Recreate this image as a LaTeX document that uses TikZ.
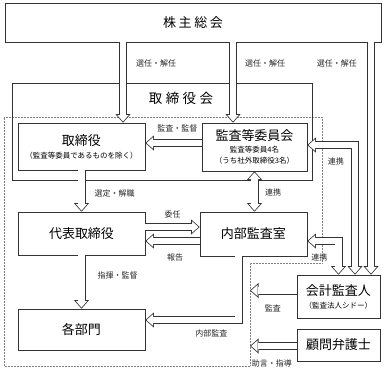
\documentclass[tikz,border=0pt]{standalone}
\usepackage{fontspec}
\setmainfont{Noto Sans CJK JP}
\usepackage{tikz}
\usetikzlibrary{arrows.meta,positioning}
\newcommand\subtxt{\fontsize{7.5}{10}\selectfont}

\begin{document}
\begin{tikzpicture}[x=1pt,y=-1pt,
          box/.style={draw=black!80,line width=.6pt,align=center,inner sep=0pt,
                      font=\fontsize{13}{15}\selectfont},
          lbl/.style={font=\fontsize{8}{9}\selectfont,inner sep=1pt,black!85},
          hollow/.style={white,line width=6.4pt,shorten >=1.2pt,
                      -{Triangle[width=11.4pt,length=6.5pt,line width=0pt]},
                      preaction={draw=black!80,line width=8pt,shorten >=0pt,
                      -{Triangle[width=15pt,length=8.5pt,line width=0pt]}}},
          hollowboth/.style={white,line width=6.4pt,shorten >=1.2pt,shorten <=1.2pt,
                      {Triangle[width=11.4pt,length=6.5pt,line width=0pt]}-{Triangle[width=11.4pt,length=6.5pt,line width=0pt]},
                      preaction={draw=black!80,line width=8pt,shorten >=0pt,shorten <=0pt,
                      {Triangle[width=15pt,length=8.5pt,line width=0pt]}-{Triangle[width=15pt,length=8.5pt,line width=0pt]}}}
        ]
        \useasboundingbox (0,0) rectangle (384,370);
        % area of the committee
        \draw[densely dotted,gray,line width=.5pt]
          (4,117) -- (322,117) -- (322,263) -- (250,263) -- (250,366) -- (4,366) -- cycle;
        \coordinate (edge) at (250,0);

        \node[box,minimum width=376pt,minimum height=39pt] (gm) at (193,22.5)
          {\addfontfeature{LetterSpace=20}株主総会};
        \node[box,minimum width=300pt,minimum height=97pt] (board) at (162,131.5) {};
        \node[font=\fontsize{13.5}{15}\selectfont] (boardttl) at (181,98)
          {\addfontfeature{LetterSpace=25}取締役会};
        \node[box,minimum width=127pt,minimum height=47pt] (dir) at (81.5,146.5)
          {取締役\\[-2pt]{\subtxt （監査等委員であるものを除く）}};
        \node[box,minimum width=105pt,minimum height=48pt] (audit) at (254.5,147)
          {監査等委員会\\[-3pt]{\subtxt 監査等委員4名}\\[-4pt]{\subtxt （うち社外取締役3名）}};
        \node[box,minimum width=127pt,minimum height=43pt] (rep) at (81.5,233.5) {代表取締役};
        \node[box,minimum width=107pt,minimum height=44pt] (ia) at (253.5,234) {内部監査室};
        \node[box,minimum width=127pt,minimum height=41pt] (dept) at (81.5,329.5) {各部門};
        \node[box,minimum width=83pt,minimum height=43pt] (ca) at (338.5,296.5)
          {会計監査人\\[-2pt]{\subtxt （監査法人シドー）}};
        \node[box,minimum width=83pt,minimum height=32pt] (law) at (338.5,345) {顧問弁護士};

        \draw[hollow] ([xshift=41.5pt]dir.north |- gm.south) -- node[lbl,pos=.26,right=9pt]{選任・解任} ([xshift=41.5pt]dir.north);
        \draw[hollow] ([xshift=-21.5pt]audit.north |- gm.south) -- node[lbl,pos=.26,right=8pt]{選任・解任} ([xshift=-21.5pt]audit.north);
        \draw[hollow] ([xshift=32.5pt]ca.north |- gm.south) -- node[lbl,pos=.09,left=10pt]{選任・解任} ([xshift=32.5pt]ca.north);
        \draw[hollow] ([yshift=4pt]audit.west) -- node[lbl,pos=.43,above=7pt]{監査・監督} ([yshift=4pt]audit.west -| dir.east);
        \draw[hollow] (dir.south) -- node[lbl,pos=.56,right=9pt]{選定・解職} (rep.north);
        \draw[hollowboth] (audit.south) -- node[lbl,pos=.53,right=6.5pt]{連携} (audit.south |- ia.north);
        \draw[hollow] ([yshift=6.5pt]rep.east) -- node[lbl,above=5pt]{委任} ([yshift=6.5pt]rep.east -| ia.west);
        \draw[hollow] ([yshift=-7pt]ia.west) -- node[lbl,pos=.45,below=9pt]{報告} ([yshift=-7pt]ia.west -| rep.east);
        \draw[hollow] (rep.south) -- node[lbl,pos=.37,right=12pt]{指揮・監督} (dept.north);
        \draw[hollow] ([xshift=-15pt]ia.south) |- node[lbl,pos=.645,below=6pt]{内部監査} ([yshift=9.5pt]dept.east);
        \draw[hollowboth] ([yshift=2pt]audit.east) -| node[lbl,pos=.565,left=7pt]{連携} ([xshift=16.5pt]ca.north);
        \draw[hollowboth] ([yshift=-7pt]ia.east) -| node[lbl,pos=.75,left=7pt]{連携} (ca.north);
        \draw[hollow] ([yshift=6pt]ca.west) -- node[lbl,pos=.51,below=10pt]{監査} ([yshift=6pt]ca.west -| edge);
        \draw[hollow] ([yshift=-1pt]law.west) -- node[lbl,pos=.53,below=10pt]{助言・指導} ([yshift=-1pt]law.west -| edge);
      \end{tikzpicture}
\end{document}
